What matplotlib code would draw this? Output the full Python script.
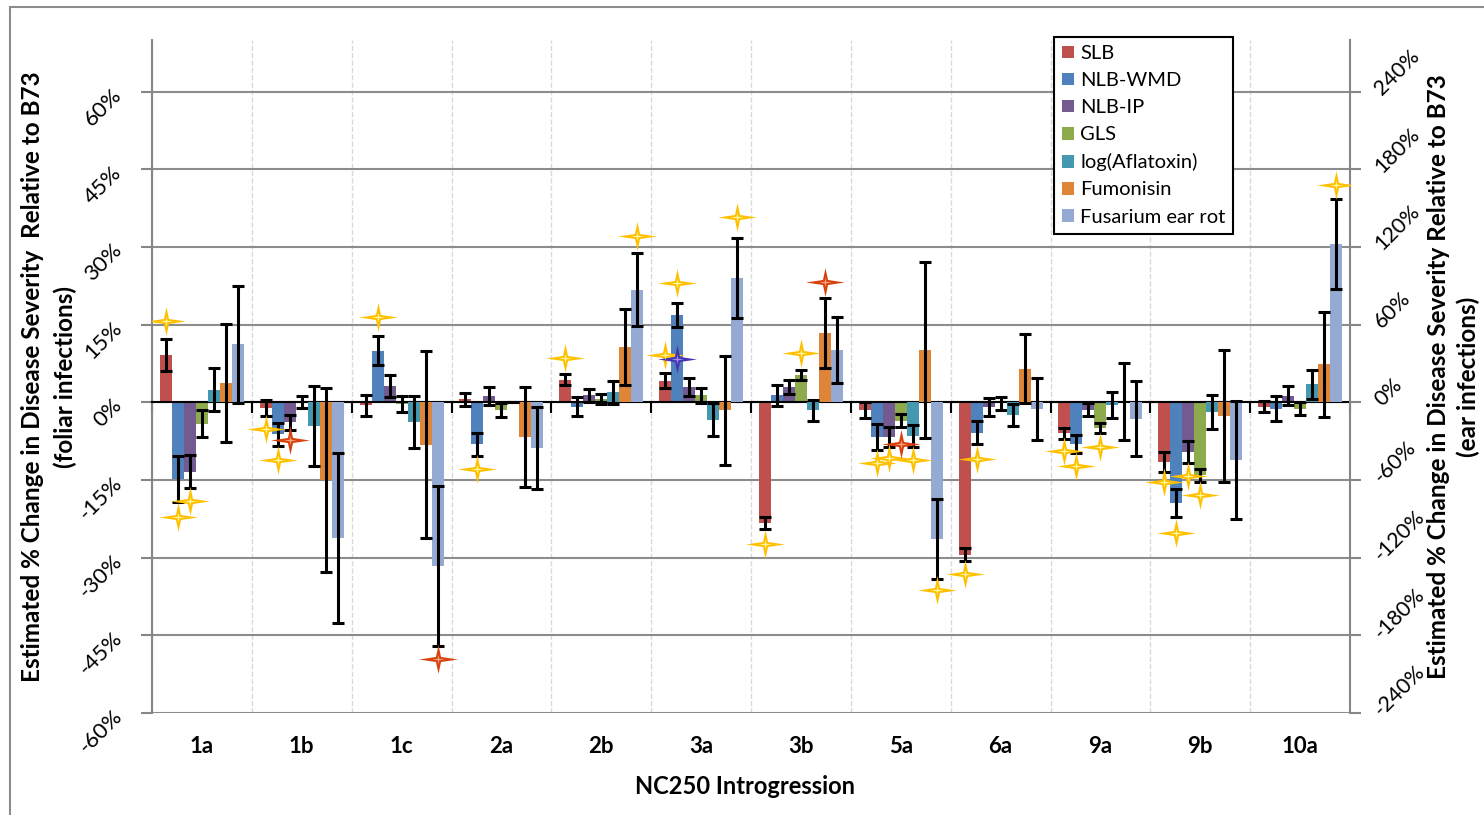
# Estimated % change in disease severity of NC250 introgression lines relative to B73
import numpy as np
import matplotlib
matplotlib.use('Agg')
import matplotlib.pyplot as plt
from matplotlib.path import Path
from matplotlib.patches import Rectangle

plt.rcParams['font.family'] = ['Lato', 'DejaVu Sans']

# categories (introgressions)
categories = ['1a', '1b', '1c', '2a', '2b', '3a', '3b', '5a', '6a', '9a', '9b', '10a']

# foliar traits, left axis (%)
slb = [9.1, -1.1, -0.6, 0.6, 4.4, 4.2, -23.3, -1.5, -29.4, -6.0, -11.5, -0.8]
slb_err = [3.1, 1.5, 2.0, 1.25, 1.1, 1.45, 1.2, 1.6, 1.25, 1.1, 2.0, 1.0]
nlb_wmd = [-14.8, -6.2, 10.0, -8.1, -0.8, 16.9, 1.35, -6.7, -5.85, -8.1, -19.4, -1.2]
nlb_wmd_err = [4.4, 2.25, 2.8, 2.25, 1.8, 2.35, 2.0, 2.5, 2.25, 1.75, 2.65, 2.4]
nlb_ip = [-13.4, -3.8, 3.1, 1.2, 1.35, 3.0, 3.0, -6.7, -0.9, -1.4, -9.6, 1.3]
nlb_ip_err = [3.2, 1.45, 2.15, 1.7, 1.2, 1.8, 1.35, 1.9, 1.7, 1.3, 2.2, 1.8]
gls = [-4.1, 0.1, -0.3, -1.5, 0.6, 1.35, 5.3, -3.5, -0.2, -4.9, -14.1, -1.2]
gls_err = [2.6, 1.2, 1.5, 1.4, 1.0, 1.4, 1.05, 1.35, 1.3, 1.0, 1.2, 1.25]

# ear traits, right axis (%)
aflatoxin = [9.8, -18.3, -15.2, 0.0, 7.7, -13.4, -6.2, -26.2, -9.5, -2.3, -7.5, 13.9]
aflatoxin_err = [16.6, 31.0, 20.2, 0.0, 9.0, 12.6, 8.4, 8.4, 8.6, 10.0, 13.0, 11.4]
fumonisin = [15.2, -60.0, -32.7, -26.8, 42.7, -6.2, 53.7, 40.6, 26.0, 0.6, -10.5, 29.3]
fumonisin_err = [45.6, 71.0, 72.4, 38.4, 29.6, 41.8, 27.1, 67.8, 26.6, 30.0, 50.8, 40.5]
fusarium = [44.8, -104.7, -126.3, -35.2, 87.2, 96.2, 40.6, -105.6, -4.9, -12.6, -44.7, 122.4]
fusarium_err = [45.0, 65.6, 61.6, 31.8, 28.4, 30.9, 25.7, 30.9, 24.0, 28.8, 45.4, 34.8]

# significance stars: group index, series index, position (left axis %), kind
star_group = [0, 0, 0, 1, 1, 1, 2, 2, 3, 4, 4, 5, 5, 5, 5, 6, 6, 6,
              7, 7, 7, 7, 7, 8, 8, 9, 9, 9, 10, 10, 10, 10, 11]
star_series = [0, 1, 2, 0, 1, 2, 1, 6, 1, 0, 6, 0, 1, 1, 6, 0, 3, 5,
               1, 2, 3, 4, 6, 0, 1, 0, 1, 3, 0, 1, 2, 3, 6]
star_value = [15.8, -22.2, -19.1, -5.2, -11.2, -7.3, 16.5, -49.6, -12.8, 8.6, 32.2,
              9.2, 8.3, 23.0, 35.9, -27.3, 9.5, 23.3,
              -11.8, -10.8, -8.1, -11.2, -36.3, -33.2, -10.9, -9.3, -12.3, -8.6,
              -15.4, -25.2, -14.3, -17.8, 41.9]
star_kind = ['g', 'g', 'g', 'g', 'g', 'r', 'g', 'r', 'g', 'g', 'g',
             'g', 'b', 'g', 'g', 'g', 'g', 'r',
             'g', 'g', 'r', 'g', 'g', 'g', 'g', 'g', 'g', 'g',
             'g', 'g', 'g', 'g', 'g']

names = ['SLB', 'NLB-WMD', 'NLB-IP', 'GLS', 'log(Aflatoxin)', 'Fumonisin', 'Fusarium ear rot']
values = [slb, nlb_wmd, nlb_ip, gls, aflatoxin, fumonisin, fusarium]
errors = [slb_err, nlb_wmd_err, nlb_ip_err, gls_err, aflatoxin_err, fumonisin_err, fusarium_err]
colors = ['#C0504D', '#4F81BD', '#735A91', '#8DAA4D', '#4499B0', '#DE8538', '#94AAD3']
star_colors = {'g': ('#FFC000', '#FFF59A'), 'r': ('#D8400E', '#F5A07A'), 'b': ('#4634B4', '#9C92F0')}

fig = plt.figure(figsize=(14.84, 8.15), dpi=100)
ax = fig.add_axes([152/1484, 1 - 713/815, (1350 - 152)/1484, (713 - 40)/815])
ax2 = ax.twinx()

x = np.arange(len(categories))
w = 0.12
handles = []
for i in range(7):
    target = ax if i < 4 else ax2
    pos = x + (i - 3) * w
    b = target.bar(pos, values[i], w, color=colors[i], label=names[i], zorder=2)
    target.errorbar(pos, values[i], yerr=errors[i], fmt='none', ecolor='black',
                    elinewidth=2.2, capsize=4, capthick=2.2, zorder=3)
    handles.append(b)

# 4-pointed star marker
star_verts = [(1, 0), (0.13, 0.13), (0, 0.74), (-0.13, 0.13), (-1, 0),
              (-0.13, -0.13), (0, -0.74), (0.13, -0.13), (1, 0)]
star = Path(star_verts, [Path.MOVETO] + [Path.LINETO] * 7 + [Path.CLOSEPOLY])
for kind in ['g', 'r', 'b']:
    sx = [star_group[k] + (star_series[k] - 3) * w for k in range(len(star_group)) if star_kind[k] == kind]
    sy = [star_value[k] for k in range(len(star_group)) if star_kind[k] == kind]
    outer, inner = star_colors[kind]
    ax2.plot(sx, sy, linestyle='none', marker=star, markersize=28, color=outer,
             markeredgewidth=0, transform=ax.transData, zorder=5)
    ax2.plot(sx, sy, linestyle='none', marker=star, markersize=9, color=inner,
             markeredgewidth=0, transform=ax.transData, zorder=6)

# axes limits & ticks
ax.set_xlim(-0.5, len(categories) - 0.5)
ax.set_ylim(-60, 70)
ax2.set_ylim(-240, 280)

ax.set_yticks(np.arange(-60, 61, 15))
ax.set_yticklabels([f'{v}%' for v in np.arange(-60, 61, 15)], fontsize=16)
ax2.set_yticks(np.arange(-240, 241, 60))
ax2.set_yticklabels([f'{v}%' for v in np.arange(-240, 241, 60)], fontsize=15.5)
for lab in ax.get_yticklabels():
    lab.set_rotation(45)
    lab.set_ha('right')
    lab.set_va('center')
    lab.set_rotation_mode('anchor')
for lab in ax2.get_yticklabels():
    lab.set_rotation(45)
    lab.set_ha('left')
    lab.set_va('center')
    lab.set_rotation_mode('anchor')

ax.tick_params(axis='y', direction='out', length=8, width=1.5, color='#868686', pad=16)
ax2.tick_params(axis='y', direction='out', length=8, width=1.5, color='#868686', pad=12)

ax.set_xticks(np.arange(-0.5, len(categories), 1))
ax.set_xticklabels([])
ax.tick_params(axis='x', direction='out', length=8, width=1.5, color='black')
ax.spines['bottom'].set_position(('data', 0))
ax.spines['bottom'].set_color('black')
ax.spines['bottom'].set_linewidth(1.5)
ax.spines['top'].set_visible(False)
ax.spines['right'].set_visible(False)
ax.spines['left'].set_color('#868686')
ax.spines['left'].set_linewidth(1.5)
for s in ['left', 'top', 'bottom']:
    ax2.spines[s].set_visible(False)
ax2.spines['right'].set_color('#868686')
ax2.spines['right'].set_linewidth(1.5)

ax.set_axisbelow(True)
ax.grid(axis='y', color='#8c8c8c', lw=1.5)
ax.grid(axis='x', color='#d9d9d9', ls='--', lw=1)

for i, lab in enumerate(categories):
    ax.text(i, -0.05, lab, transform=ax.get_xaxis_transform(), ha='center', va='center',
            fontsize=16, fontweight='bold')

fig.text(745/1484, 1 - 787/815, 'NC250 Introgression', ha='center', va='center',
         fontsize=17, fontweight='bold')
fig.text(33/1484, 1 - 377/815, 'Estimated % Change in Disease Severity  Relative to B73',
         rotation=90, ha='center', va='center', fontsize=17.5, fontweight='bold')
fig.text(65/1484, 1 - 377/815, '(foliar infections)',
         rotation=90, ha='center', va='center', fontsize=17.5, fontweight='bold')
fig.text(1439/1484, 1 - 377/815, 'Estimated % Change in Disease Severity Relative to B73',
         rotation=90, ha='center', va='center', fontsize=17.5, fontweight='bold')
fig.text(1468/1484, 1 - 377/815, '(ear infections)',
         rotation=90, ha='center', va='center', fontsize=17.5, fontweight='bold')

leg = fig.legend(handles, names, loc='upper left', bbox_to_anchor=(1054/1484, 1 - 37/815),
                 bbox_transform=fig.transFigure, fontsize=14.5, frameon=True, fancybox=False,
                 framealpha=1, edgecolor='black', handlelength=0.6, handleheight=0.6,
                 handletextpad=0.3, labelspacing=0.5, borderpad=0.4, borderaxespad=0)
leg.get_frame().set_linewidth(1.5)

# outer chart-area border (left and top visible)
fig.add_artist(Rectangle((10/1484, -0.5), 2, 1.5 - 7/815, transform=fig.transFigure,
                         fill=False, edgecolor='#8c8c8c', lw=1.5, clip_on=False))

fig.savefig('out.png', dpi=100)
